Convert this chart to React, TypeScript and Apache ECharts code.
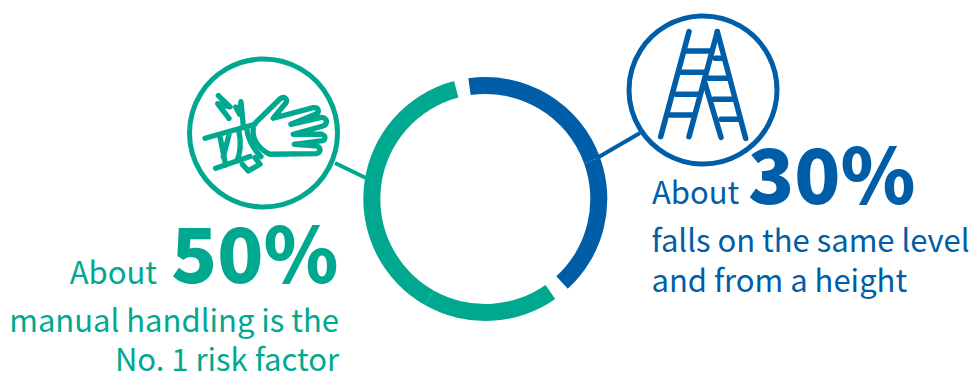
import React, { useEffect, useRef } from "react";
import * as echarts from "echarts";

const GREEN = "#00a88f";
const BLUE = "#005da8";

// Ring shares in percent of the full circle, clockwise from the upper gap.
const segmentNames = ["Falls", "Height", "gap-a", "Handling-a", "Handling-b", "gap-b"];
const segmentValues = [21.7, 18.7, 2.1, 17.9, 37.7, 1.9];
const segmentColors = [BLUE, BLUE, "transparent", GREEN, GREEN, "transparent"];

const leftHeadline = ["About", "50%"];
const leftLines = ["manual handling is the", "No. 1 risk factor"];
const rightHeadline = ["About", "30%"];
const rightLines = ["falls on the same level", "and from a height"];

const ladderSegments = [
  [207, 95, 122, 410], [292, 95, 207, 410], [292, 95, 377, 415], [255, 250, 303, 412],
  [200, 153, 275, 153], [185, 217, 255, 217], [168, 283, 235, 283], [150, 345, 220, 345],
  [285, 175, 305, 175], [265, 235, 322, 235], [280, 298, 337, 298], [303, 358, 358, 358],
];

// Hand icon outlines, drawn at three times size and scaled down.
const HAND =
  "M150 115 L225 42 C238 32 250 42 242 55 L205 100 L325 68 C342 66 345 82 332 88 L258 118 L350 97 C368 97 370 118 352 124 L265 148 L350 148 C365 152 362 168 348 168 L268 178 L335 183 C350 188 348 205 332 206 L195 208 C165 195 140 165 145 130";
const BANDAGE = [
  "M0 160 L150 118",
  "M32 250 L135 215",
  "M45 155 L62 240",
  "M72 150 L55 215",
  "M102 140 C108 170 108 200 96 228",
  "M125 130 C130 170 148 195 168 215",
  "M112 238 L130 258 L165 238 L150 218",
];
const BOLT = "M40 32 L75 66 L38 56 L72 100 M92 66 L104 88 L108 50 L115 122";

echarts.graphic.registerShape("handOutline", echarts.graphic.extendPath(HAND, {}));
BANDAGE.forEach((d, i) =>
  echarts.graphic.registerShape("bandage" + i, echarts.graphic.extendPath(d, {}))
);
echarts.graphic.registerShape("bolt", echarts.graphic.extendPath(BOLT, {}));

const FONT = '"Noto Sans CJK SC", "Noto Sans", sans-serif';

function label(text: string, x: number, y: number, fill: string, size: number, align: string, weight = 400) {
  return {
    type: "text",
    x,
    y,
    style: { text, fill, font: `${weight} ${size}px ${FONT}`, textAlign: align, textVerticalAlign: "bottom" },
  };
}

export default function App() {
  const ref = useRef<HTMLDivElement>(null);
  useEffect(() => {
    const chart = echarts.init(ref.current!, undefined, { renderer: "svg" });
    const strokeGreen = { stroke: GREEN, fill: "none", lineWidth: 16, lineCap: "round", lineJoin: "round" };
    const ladder = ladderSegments.map(([x1, y1, x2, y2]) => ({
      type: "line",
      shape: { x1: 620 + x1 / 3, y1: y1 / 3, x2: 620 + x2 / 3, y2: y2 / 3 },
      style: { stroke: BLUE, lineWidth: 5.5, lineCap: "round" },
    }));
    const handIcon = ["handOutline", ...BANDAGE.map((_, i) => "bandage" + i), "bolt"].map((type) => ({
      type,
      x: 205,
      y: 85,
      scaleX: 1 / 3,
      scaleY: 1 / 3,
      style: strokeGreen,
    }));
    chart.setOption({
      animation: false,
      backgroundColor: "#fff",
      series: [
        {
          type: "pie",
          center: [485.3, 199],
          radius: [105, 122],
          startAngle: 98,
          label: { show: false },
          labelLine: { show: false },
          silent: true,
          data: segmentNames.map((name, i) => ({
            name,
            value: segmentValues[i],
            itemStyle: { color: segmentColors[i] },
          })),
        },
      ],
      graphic: [
        { type: "line", shape: { x1: 335, y1: 163, x2: 366, y2: 178 }, style: { stroke: GREEN, lineWidth: 4 } },
        { type: "line", shape: { x1: 597, y1: 158, x2: 640, y2: 133 }, style: { stroke: BLUE, lineWidth: 4 } },
        { type: "circle", shape: { cx: 263.5, cy: 133, r: 74 }, style: { fill: "#fff", stroke: GREEN, lineWidth: 5 } },
        { type: "circle", shape: { cx: 703, cy: 90, r: 74 }, style: { fill: "#fff", stroke: BLUE, lineWidth: 5 } },
        ...handIcon,
        ...ladder,
        label(leftHeadline[0], 157, 286, GREEN, 31, "right"),
        label(leftHeadline[1], 338.5, 287.5, GREEN, 76, "right", 900),
        label(leftLines[0], 339, 334, GREEN, 31, "right"),
        label(leftLines[1], 339, 372.5, GREEN, 31, "right"),
        label(rightHeadline[0], 652, 206, BLUE, 31, "left"),
        label(rightHeadline[1], 748, 208.5, BLUE, 76, "left", 900),
        label(rightLines[0], 651.5, 254, BLUE, 31, "left"),
        label(rightLines[1], 651.5, 293.5, BLUE, 31, "left"),
      ],
    });
    return () => chart.dispose();
  }, []);
  return <div ref={ref} style={{ position: "fixed", left: 0, top: 0, width: 974, height: 372 }} />;
}
